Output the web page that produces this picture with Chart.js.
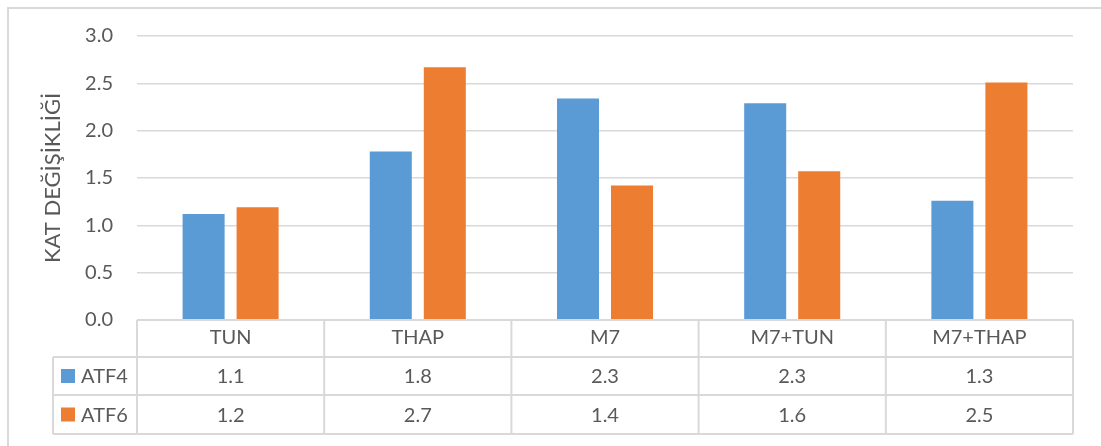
<!DOCTYPE html>
<html>
<head>
<meta charset="utf-8">
<script src="https://cdn.jsdelivr.net/npm/chart.js@4"></script>
<style>
  html, body { margin: 0; padding: 0; background: #fff; overflow: hidden; }
  #wrap { position: relative; width: 1101px; height: 446px; }
</style>
</head>
<body>
<div id="wrap"><canvas id="c" width="1101" height="446"></canvas></div>
<script>
// Fold change of ATF4 / ATF6 per treatment
const categories = ['TUN', 'THAP', 'M7', 'M7+TUN', 'M7+THAP'];
const atf4 = [1.12, 1.78, 2.34, 2.29, 1.26];
const atf6 = [1.19, 2.67, 1.42, 1.57, 2.51];
const seriesNames = ['ATF4', 'ATF6'];
const axisTitle = 'KAT DEĞİŞİKLİĞİ';
const yMin = 0, yMax = 3, yStep = 0.5;

const TEXT = '#595959';
const LINE = '#d9d9d9';
const FONT = 'Lato, "Open Sans", sans-serif';
const SIZE = 20;

// Frame around the chart plus the data table under the plot
const tablePlugin = {
  id: 'dataTable',
  beforeDraw(chart) {
    const ctx = chart.ctx;
    ctx.save();
    ctx.strokeStyle = LINE;
    ctx.lineWidth = 2;
    ctx.beginPath();
    ctx.moveTo(8, chart.height + 2);
    ctx.lineTo(8, 8);
    ctx.lineTo(chart.width + 2, 8);
    ctx.stroke();
    ctx.restore();
  },
  afterDraw(chart) {
    const { ctx, chartArea: a, scales: { x } } = chart;
    const n = categories.length;
    const cw = (a.right - a.left) / n;
    const rows = [a.bottom, a.bottom + 37, a.bottom + 75, a.bottom + 114];
    const legendLeft = 53;

    ctx.save();
    ctx.strokeStyle = LINE;
    ctx.lineWidth = 2;
    const seg = (x1, y1, x2, y2) => { ctx.beginPath(); ctx.moveTo(x1, y1); ctx.lineTo(x2, y2); ctx.stroke(); };

    seg(a.left, rows[0], a.right, rows[0]);
    for (let r = 1; r < rows.length; r++) seg(legendLeft, rows[r], a.right, rows[r]);
    for (let i = 0; i <= n; i++) {
      const xi = a.left + i * cw;
      seg(xi, rows[0], xi, rows[3]);
    }
    seg(legendLeft, rows[1], legendLeft, rows[3]);

    ctx.font = SIZE + 'px ' + FONT;
    ctx.textBaseline = 'middle';
    chart.data.datasets.forEach((ds, k) => {
      const mid = (rows[k + 1] + rows[k + 2]) / 2;
      ctx.fillStyle = ds.backgroundColor;
      ctx.fillRect(61, mid - 7, 14, 14);
      ctx.fillStyle = TEXT;
      ctx.textAlign = 'left';
      ctx.fillText(ds.label, 81, mid + 1);
      ctx.textAlign = 'center';
      ds.data.forEach((v, i) => {
        ctx.fillText(v.toFixed(1), x.getPixelForValue(i), mid + 1);
      });
    });
    ctx.restore();
  }
};

new Chart(document.getElementById('c'), {
  type: 'bar',
  data: {
    labels: categories,
    datasets: [
      { label: seriesNames[0], data: atf4, backgroundColor: '#5B9BD5' },
      { label: seriesNames[1], data: atf6, backgroundColor: '#ED7D31' }
    ]
  },
  options: {
    responsive: false,
    animation: false,
    devicePixelRatio: 1,
    layout: { padding: { left: 0, top: 36, right: 28, bottom: 0 } },
    datasets: { bar: { categoryPercentage: 0.577, barPercentage: 0.778 } },
    plugins: { legend: { display: false }, tooltip: { enabled: false } },
    scales: {
      x: {
        grid: { display: false, drawTicks: false },
        border: { display: false },
        ticks: { color: TEXT, font: { family: FONT, size: SIZE }, padding: 6, maxRotation: 0 },
        afterFit(scale) { scale.height = 126; }
      },
      y: {
        min: yMin, max: yMax,
        grid: { color: LINE, lineWidth: 1.5, drawTicks: false },
        border: { display: false },
        ticks: {
          stepSize: yStep, color: TEXT, padding: 24,
          font: { family: FONT, size: SIZE },
          callback: v => Number(v).toFixed(1)
        },
        title: {
          display: true, text: axisTitle, color: TEXT,
          font: { family: FONT, size: 22 },
          padding: { top: 40, bottom: 0 }
        },
        afterFit(scale) { scale.width = 137; }
      }
    }
  },
  plugins: [tablePlugin]
});
</script>
</body>
</html>
